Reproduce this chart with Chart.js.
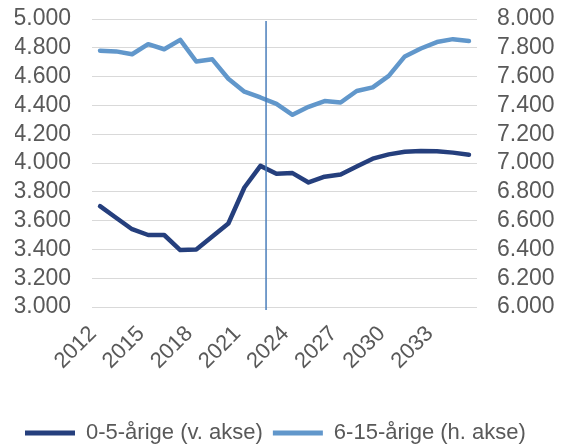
<!DOCTYPE html>
<html>
<head>
<meta charset="utf-8">
<script src="https://cdn.jsdelivr.net/npm/chart.js@4"></script>
<style>
  html, body { margin: 0; padding: 0; background: #fff; overflow: hidden; }
  #wrap { width: 568px; height: 447px; overflow: hidden; }
</style>
</head>
<body>
<div id="wrap"><canvas id="c" width="568" height="454"></canvas></div>
<script>
const years = [2012, 2013, 2014, 2015, 2016, 2017, 2018, 2019, 2020, 2021, 2022, 2023,
               2024, 2025, 2026, 2027, 2028, 2029, 2030, 2031, 2032, 2033, 2034, 2035];
const shownYearLabels = [2012, 2015, 2018, 2021, 2024, 2027, 2030, 2033];
const age0to5 = [3700, 3620, 3540, 3500, 3500, 3395, 3400, 3490, 3580, 3830, 3980, 3925,
                 3930, 3865, 3905, 3920, 3975, 4030, 4060, 4078, 4083, 4082, 4072, 4058];
const age6to15 = [7780, 7775, 7755, 7825, 7790, 7855, 7705, 7720, 7585, 7495, 7455, 7410,
                  7335, 7390, 7430, 7420, 7500, 7525, 7605, 7740, 7795, 7840, 7860, 7848];
const leftAxisRange = [3000, 5000];
const rightAxisRange = [6000, 8000];
const axisStep = 200;
const seriesNames = ['0-5-årige (v. akse)', '6-15-årige (h. akse)'];
const dividerYear = 2022.35;

const DARK = '#253F7D';
const LIGHT = '#6197CB';
const TXT = '#595959';
const FAMILY = 'Liberation Sans, Arial, sans-serif';
const FONT = { family: FAMILY, size: 22 };
const YFONT = { family: FAMILY, size: 23 };

function fmt(v) {
  return String(Math.round(v)).replace(/\B(?=(\d{3})+(?!\d))/g, '.');
}

const dividerPlugin = {
  id: 'divider',
  afterDatasetsDraw(chart) {
    const xs = chart.scales.x;
    const base = Math.floor(dividerYear);
    const i = years.indexOf(base);
    const p0 = xs.getPixelForValue(i);
    const p1 = xs.getPixelForValue(i + 1);
    const x = p0 + (p1 - p0) * (dividerYear - base);
    const ctx = chart.ctx;
    ctx.save();
    ctx.strokeStyle = '#4A7EBB';
    ctx.lineWidth = 1.5;
    ctx.beginPath();
    ctx.moveTo(x, chart.chartArea.top + 2);
    ctx.lineTo(x, chart.chartArea.bottom + 3);
    ctx.stroke();
    ctx.restore();
  }
};

new Chart(document.getElementById('c'), {
  type: 'line',
  data: {
    labels: years,
    datasets: [
      { label: seriesNames[0], data: age0to5, yAxisID: 'y', borderColor: DARK, backgroundColor: DARK,
        borderWidth: 4.5, pointRadius: 0, tension: 0, borderJoinStyle: 'round', borderCapStyle: 'round' },
      { label: seriesNames[1], data: age6to15, yAxisID: 'y1', borderColor: LIGHT, backgroundColor: LIGHT,
        borderWidth: 4.5, pointRadius: 0, tension: 0, borderJoinStyle: 'round', borderCapStyle: 'round' }
    ]
  },
  options: {
    responsive: false,
    devicePixelRatio: 1,
    animation: false,
    layout: { padding: { top: 19, left: 15, right: 0, bottom: 0 } },
    plugins: {
      tooltip: { enabled: false },
      legend: {
        position: 'bottom',
        align: 'start',
        labels: {
          color: TXT,
          font: FONT,
          boxWidth: 50,
          boxHeight: 5,
          padding: 10,
          generateLabels(chart) {
            return chart.data.datasets.map((ds, i) => ({
              text: ds.label, fillStyle: ds.borderColor, strokeStyle: ds.borderColor,
              lineWidth: 0, hidden: false, datasetIndex: i, fontColor: TXT
            }));
          }
        }
      }
    },
    scales: {
      x: {
        type: 'category',
        offset: true,
        grid: { display: false, drawTicks: false },
        border: { display: false },
        ticks: {
          autoSkip: false, maxRotation: 45, minRotation: 45, color: TXT, font: FONT, padding: 14,
          labelOffset: -7,
          callback: (v, i) => shownYearLabels.includes(years[i]) ? String(years[i]) : ''
        },
        afterFit: s => { s.height = 105; }
      },
      y: {
        position: 'left',
        min: leftAxisRange[0], max: leftAxisRange[1],
        grid: { color: '#D9D9D9', lineWidth: 1, drawTicks: true, tickLength: 21, tickColor: 'rgba(0,0,0,0)' },
        border: { display: false },
        ticks: { autoSkip: false, stepSize: axisStep, color: TXT, font: YFONT, padding: 0, callback: v => fmt(v) },
        afterFit: s => { s.width = 77; }
      },
      y1: {
        position: 'right',
        min: rightAxisRange[0], max: rightAxisRange[1],
        grid: { display: true, drawOnChartArea: false, drawTicks: true, tickLength: 20,
                color: 'rgba(0,0,0,0)', tickColor: 'rgba(0,0,0,0)' },
        border: { display: false },
        ticks: { autoSkip: false, stepSize: axisStep, color: TXT, font: YFONT, padding: 0, callback: v => fmt(v) },
        afterFit: s => { s.width = 91; }
      }
    }
  },
  plugins: [dividerPlugin]
});
</script>
</body>
</html>
